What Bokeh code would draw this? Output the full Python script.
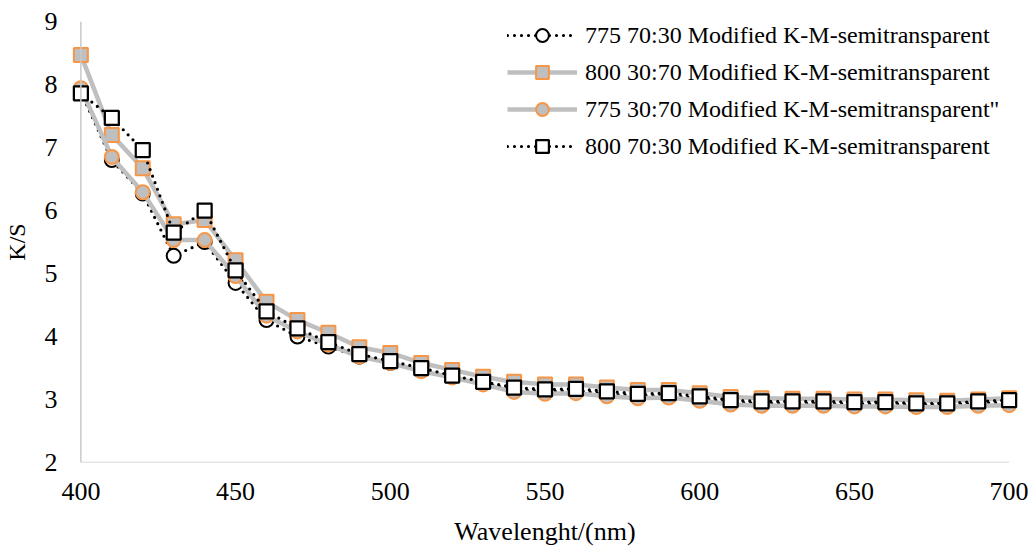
from bokeh.plotting import figure
from bokeh.models import Range1d, FixedTicker, Span, Legend, LegendItem
from bokeh.embed import file_html
from bokeh.resources import INLINE

wavelength = [400, 410, 420, 430, 440, 450, 460, 470, 480, 490, 500, 510, 520, 530, 540,
              550, 560, 570, 580, 590, 600, 610, 620, 630, 640, 650, 660, 670, 680, 690, 700]

s775_7030 = [7.88, 6.80, 6.27, 5.28, 5.50, 4.85, 4.26, 4.00, 3.84, 3.68, 3.58, 3.46, 3.36, 3.26, 3.16,
             3.13, 3.14, 3.09, 3.06, 3.06, 3.02, 2.96, 2.94, 2.94, 2.94, 2.93, 2.93, 2.92, 2.92, 2.94, 2.96]
s800_3070 = [8.47, 7.20, 6.67, 5.78, 5.85, 5.21, 4.55, 4.26, 4.06, 3.83, 3.74, 3.58, 3.47, 3.36, 3.28,
             3.24, 3.24, 3.19, 3.15, 3.15, 3.10, 3.04, 3.02, 3.01, 3.01, 3.00, 3.00, 2.99, 2.98, 3.00, 3.02]
s775_3070 = [7.94, 6.85, 6.29, 5.53, 5.53, 4.96, 4.33, 4.08, 3.87, 3.68, 3.58, 3.45, 3.35, 3.24, 3.12,
             3.09, 3.10, 3.05, 3.02, 3.03, 2.98, 2.92, 2.90, 2.90, 2.90, 2.89, 2.89, 2.88, 2.88, 2.90, 2.91]
s800_7030 = [7.86, 7.47, 6.96, 5.65, 6.00, 5.05, 4.40, 4.13, 3.91, 3.72, 3.61, 3.50, 3.38, 3.28, 3.19,
             3.16, 3.17, 3.13, 3.09, 3.10, 3.05, 2.99, 2.97, 2.97, 2.97, 2.96, 2.96, 2.94, 2.94, 2.97, 2.99]

labels = ["775 70:30 Modified K-M-semitransparent",
          "800 30:70 Modified K-M-semitransparent",
          "775 30:70 Modified K-M-semitransparent\"",
          "800 70:30 Modified K-M-semitransparent"]

x_ticks = [400, 450, 500, 550, 600, 650, 700]
y_ticks = [2, 3, 4, 5, 6, 7, 8, 9]

FONT = "Liberation Serif"
GRAY = "#BFBFBF"
ORANGE = "#F79646"
AXIS = "#C9C9C9"

p = figure(width=1035, height=548, output_backend="svg", toolbar_location=None,
           x_range=Range1d(396, 704), y_range=Range1d(2, 9),
           min_border_left=61, min_border_right=14, min_border_top=21, min_border_bottom=85)
p.outline_line_color = None
p.grid.grid_line_color = None
p.background_fill_color = "white"
p.border_fill_color = "white"

for ax in (p.xaxis[0], p.yaxis[0]):
    ax.axis_line_color = None
    ax.major_tick_line_color = None
    ax.minor_tick_line_color = None
    ax.major_tick_out = 0
    ax.major_tick_in = 0
    ax.minor_tick_out = 0
    ax.major_label_text_font = FONT
    ax.major_label_text_font_size = "26px"
    ax.major_label_text_color = "black"
    ax.axis_label_text_font = FONT
    ax.axis_label_text_font_style = "normal"
    ax.axis_label_text_color = "black"

p.xaxis.ticker = FixedTicker(ticks=x_ticks)
p.yaxis.ticker = FixedTicker(ticks=y_ticks)
p.xaxis.major_label_standoff = 20
p.yaxis.major_label_standoff = 11
p.xaxis.axis_label = "Wavelenght/(nm)"
p.xaxis.axis_label_text_font_size = "26px"
p.xaxis.axis_label_standoff = 14
p.yaxis.axis_label = "K/S"
p.yaxis.axis_label_text_font_size = "24px"
p.yaxis.axis_label_standoff = 12

# axis lines at 400 nm and K/S = 2
p.add_layout(Span(location=x_ticks[0], dimension="height", line_color=AXIS, line_width=1.5))
p.segment(x0=[x_ticks[0]], y0=[y_ticks[0]], x1=[x_ticks[-1]], y1=[y_ticks[0]],
          line_color=AXIS, line_width=1.5)

DOT = dict(line_color="black", line_width=3.2, line_dash="0 7", line_cap="round")
SOLID = dict(line_color=GRAY, line_width=4.5)

r1l = p.line(wavelength, s775_7030, **DOT)
r1m = p.scatter(wavelength, s775_7030, marker="circle", size=14, fill_color="white",
                line_color="black", line_width=2)
r2l = p.line(wavelength, s800_3070, **SOLID)
r2m = p.scatter(wavelength, s800_3070, marker="square", size=14, fill_color=GRAY,
                line_color=ORANGE, line_width=2)
r3l = p.line(wavelength, s775_3070, **SOLID)
r3m = p.scatter(wavelength, s775_3070, marker="circle", size=14, fill_color=GRAY,
                line_color=ORANGE, line_width=2)
r4l = p.line(wavelength, s800_7030, **DOT)
r4m = p.scatter(wavelength, s800_7030, marker="square", size=14, fill_color="white",
                line_color="black", line_width=2.25)

legend = Legend(items=[
    LegendItem(label=labels[0], renderers=[r1l, r1m]),
    LegendItem(label=labels[1], renderers=[r2l, r2m]),
    LegendItem(label=labels[2], renderers=[r3l, r3m]),
    LegendItem(label=labels[3], renderers=[r4l, r4m]),
], location=(439, 300))
legend.label_text_font = FONT
legend.label_text_font_size = "24px"
legend.label_text_color = "black"
legend.glyph_width = 70
legend.glyph_height = 32
legend.label_height = 32
legend.label_standoff = 8
legend.spacing = 5
legend.padding = 0
legend.margin = 0
legend.border_line_color = None
legend.background_fill_alpha = 0
p.add_layout(legend)

open("out.html", "w").write(file_html(p, INLINE))
